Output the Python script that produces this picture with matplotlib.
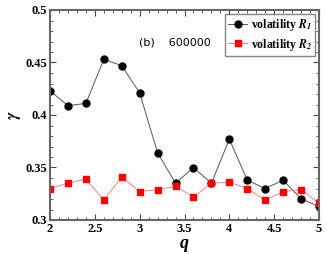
import numpy as np
import matplotlib.pyplot as plt
from matplotlib.ticker import MultipleLocator, FuncFormatter

### data ###
q = [2.0, 2.2, 2.4, 2.6, 2.8, 3.0, 3.2, 3.4, 3.6, 3.8, 4.0, 4.2, 4.4, 4.6, 4.8, 5.0]
gamma_r1 = [0.423, 0.409, 0.411, 0.453, 0.447, 0.421, 0.364, 0.335, 0.350, 0.335,
            0.377, 0.338, 0.330, 0.338, 0.320, 0.313]
gamma_r2 = [0.330, 0.335, 0.339, 0.319, 0.341, 0.327, 0.329, 0.332, 0.322, 0.335,
            0.336, 0.330, 0.319, 0.327, 0.329, 0.316]

# serif bold like the original figure
plt.rcParams['font.family'] = 'Liberation Serif'
plt.rcParams['font.weight'] = 'bold'
plt.rcParams['mathtext.fontset'] = 'stix'

### plotting ###
fig = plt.figure(figsize=(3.27, 2.54), dpi=100)
ax = fig.add_axes([50/327, 34/254, 269/327, 210/254])

ax.plot(q, gamma_r1, '-', color='#555555', lw=0.7, marker='o', ms=5,
        mfc='black', mec='black', label=r'volatility $\mathbfit{R}_\mathbfit{1}$')
ax.plot(q, gamma_r2, '-', color='#ff8080', lw=0.7, marker='s', ms=4.5,
        mfc='red', mec='red', label=r'volatility $\mathbfit{R}_\mathbfit{2}$')

ax.set_xlim(2, 5)
ax.set_ylim(0.3, 0.5)
short = FuncFormatter(lambda v, pos: f'{v:g}')
ax.xaxis.set_major_locator(MultipleLocator(0.5))
ax.xaxis.set_minor_locator(MultipleLocator(0.1))
ax.yaxis.set_major_locator(MultipleLocator(0.05))
ax.yaxis.set_minor_locator(MultipleLocator(0.01))
ax.xaxis.set_major_formatter(short)
ax.yaxis.set_major_formatter(short)
ax.tick_params(which='both', direction='in', top=True, right=True, color='#444444')
ax.tick_params(which='major', length=4, width=0.8, labelsize=9, pad=2)
ax.tick_params(which='minor', length=2, width=0.6)
for s in ax.spines.values():
    s.set_color('#666666')
    s.set_linewidth(1.5)

ax.set_xlabel('q', fontweight='bold', fontstyle='italic', fontsize=13, labelpad=0)
ax.set_ylabel(r'$\gamma$', fontsize=12, labelpad=2)
ax.text(0.33, 0.83, '(b)    600000', transform=ax.transAxes, fontsize=8,
        family='DejaVu Sans', weight='normal')

leg = ax.legend(loc='upper right', handlelength=1.6,
                borderaxespad=0.3, handletextpad=0.3, borderpad=0.3,
                labelspacing=0.3, fancybox=False, edgecolor='#666666',
                prop={'weight': 'bold', 'size': 8.5})
leg.get_frame().set_linewidth(1.0)

fig.savefig('out.png', dpi=100)
